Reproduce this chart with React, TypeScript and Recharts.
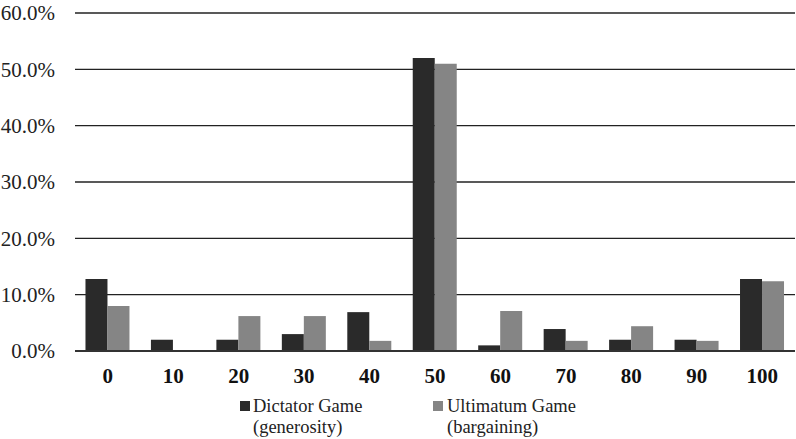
import React from 'react';
import { BarChart, Bar, XAxis, YAxis, CartesianGrid, Legend } from 'recharts';

const categories = ['0', '10', '20', '30', '40', '50', '60', '70', '80', '90', '100'];
const dictator = [12.8, 2.0, 2.0, 3.0, 6.9, 52.0, 1.0, 3.9, 2.0, 2.0, 12.8];
const ultimatum = [8.0, 0, 6.2, 6.2, 1.8, 51.0, 7.1, 1.8, 4.4, 1.8, 12.4];
const yTicks = [0, 10, 20, 30, 40, 50, 60];

const data = categories.map((c, i) => ({
  name: c,
  dictator: dictator[i],
  ultimatum: ultimatum[i],
}));

const serif = 'Liberation Serif, Tinos, DejaVu Serif, serif';
const DARK = '#2a2a2a';
const LIGHT = '#858585';

const renderLegend = () => (
  <div style={{ position: 'relative', height: 44, fontFamily: serif, fontSize: 18.5, color: '#222', lineHeight: '21px' }}>
    <div style={{ position: 'absolute', left: 240, top: 0, display: 'flex' }}>
      <span style={{ width: 10, height: 10, background: DARK, marginTop: 5, marginRight: 3 }} />
      <span>Dictator Game<br />(generosity)</span>
    </div>
    <div style={{ position: 'absolute', left: 433, top: 0, display: 'flex' }}>
      <span style={{ width: 10, height: 10, background: LIGHT, marginTop: 5, marginRight: 4 }} />
      <span>Ultimatum Game<br />(bargaining)</span>
    </div>
  </div>
);

export default function App() {
  return (
    <div style={{ position: 'absolute', left: 0, top: 0, background: '#fff', fontFamily: serif }}>
      <BarChart
        width={796}
        height={439}
        data={data}
        margin={{ top: 13, right: 1, left: 0, bottom: 48 }}
        barCategoryGap='16%'
        barGap={0}
        style={{ fontFamily: serif }}
      >
        <CartesianGrid vertical={false} stroke='#222' strokeWidth={1.3} />
        <XAxis
          dataKey='name'
          height={40}
          tickLine={false}
          tickSize={0}
          tickMargin={17}
          axisLine={{ stroke: '#333', strokeWidth: 2 }}
          tick={{ fill: '#111', fontSize: 21, fontWeight: 'bold', fontFamily: serif }}
        />
        <YAxis
          width={75}
          domain={[0, 60]}
          ticks={yTicks}
          axisLine={false}
          tickLine={false}
          tickSize={0}
          tickMargin={20}
          tickFormatter={(v: number) => v.toFixed(1) + '%'}
          tick={{ fill: '#222', fontSize: 21, fontFamily: serif }}
        />
        <Legend
          layout='horizontal'
          verticalAlign='middle'
          align='center'
          content={renderLegend}
          wrapperStyle={{ position: 'absolute', left: 0, top: 396, width: 796 }}
        />
        <Bar dataKey='dictator' fill={DARK} isAnimationActive={false} />
        <Bar dataKey='ultimatum' fill={LIGHT} isAnimationActive={false} />
      </BarChart>
    </div>
  );
}
